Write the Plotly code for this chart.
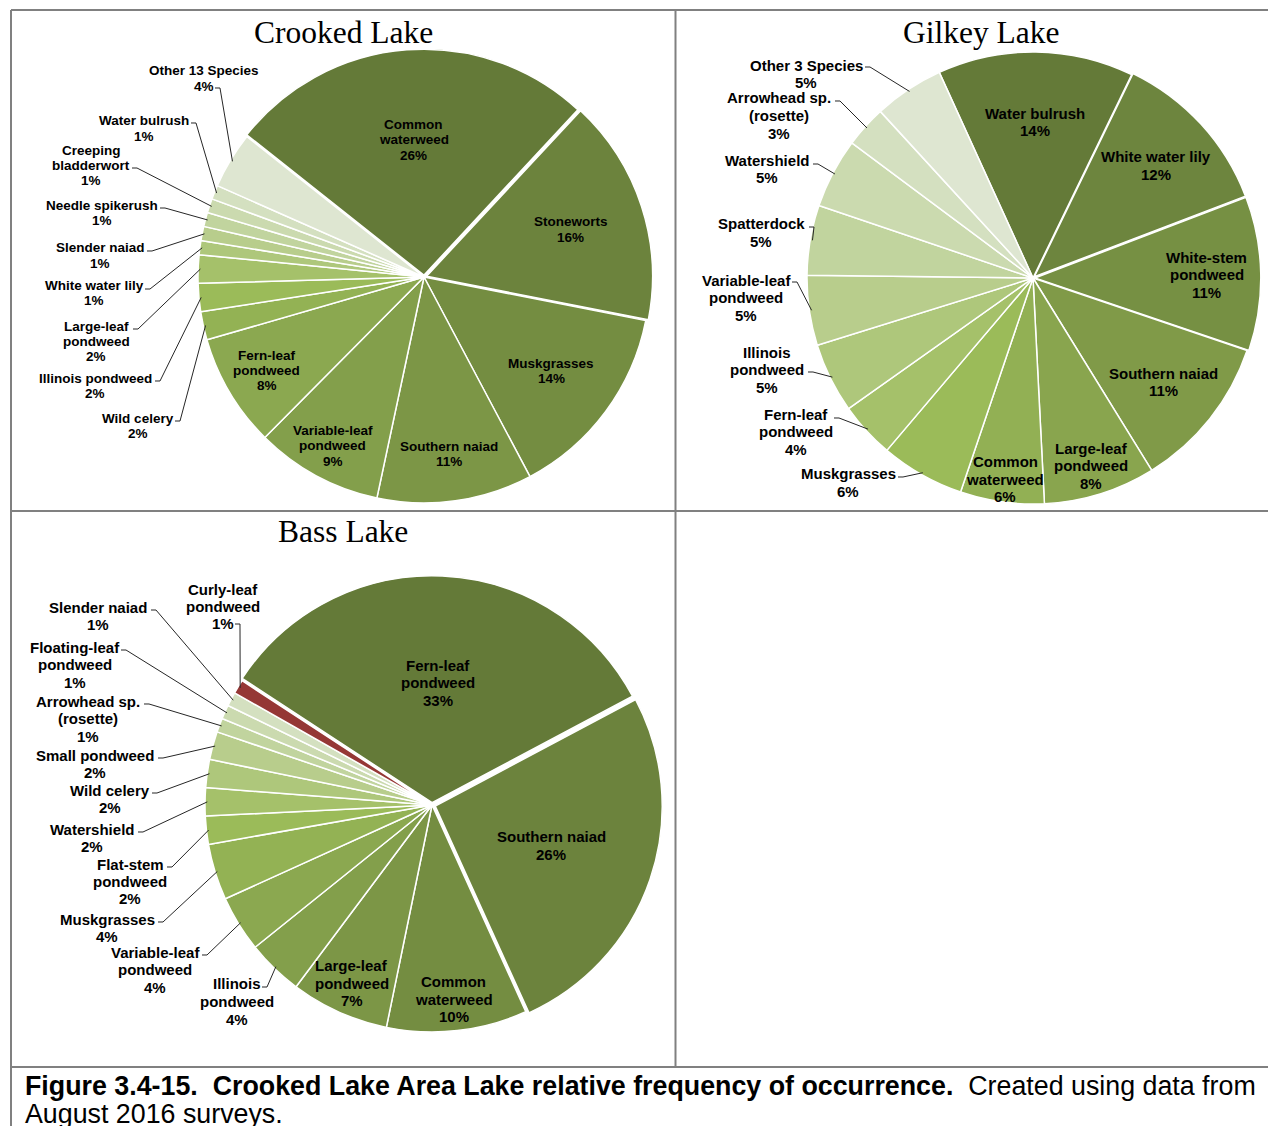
import math
import plotly.graph_objects as go

# ---- data (clockwise order, as in the reference) ----
crooked_species = ["Common\nwaterweed", "Stoneworts", "Muskgrasses", "Southern naiad",
                   "Variable-leaf\npondweed", "Fern-leaf\npondweed", "Wild celery",
                   "Illinois pondweed", "Large-leaf\npondweed", "White water lily",
                   "Slender naiad", "Needle spikerush", "Creeping\nbladderwort",
                   "Water bulrush", "Other 13 Species"]
crooked_pct = [26, 16, 14, 11, 9, 8, 2, 2, 2, 1, 1, 1, 1, 1, 4]

gilkey_species = ["Water bulrush", "White water lily", "White-stem\npondweed", "Southern naiad",
                  "Large-leaf\npondweed", "Common\nwaterweed", "Muskgrasses",
                  "Fern-leaf\npondweed", "Illinois\npondweed", "Variable-leaf\npondweed",
                  "Spatterdock", "Watershield", "Arrowhead sp.\n(rosette)", "Other 3 Species"]
gilkey_pct = [14, 12, 11, 11, 8, 6, 6, 4, 5, 5, 5, 5, 3, 5]

bass_species = ["Fern-leaf\npondweed", "Southern naiad", "Common\nwaterweed",
                "Large-leaf\npondweed", "Illinois\npondweed", "Variable-leaf\npondweed",
                "Muskgrasses", "Flat-stem\npondweed", "Watershield", "Wild celery",
                "Small pondweed", "Arrowhead sp.\n(rosette)", "Floating-leaf\npondweed",
                "Slender naiad", "Curly-leaf\npondweed"]
bass_pct = [33, 26, 10, 7, 4, 4, 4, 2, 2, 2, 2, 1, 1, 1, 1]

# ---- layout / styling ----
OFF = 8  # page body margin
W, H = 1276 - OFF, 1126 - OFF
SANS = "Arial, Liberation Sans, sans-serif"
SERIF = "Times New Roman, Liberation Serif, serif"
DARK, BASE, LIGHT = (100, 122, 56), (155, 187, 89), (222, 230, 209)
GRID = "#808080"


def px(x):
    return (x - OFF) / W


def py(y):
    return 1 - (y - OFF) / H


def mono_colors(n):
    mid = (n - 1) // 2
    out = []
    for i in range(n):
        if i <= mid:
            a, b, t = DARK, BASE, i / mid
        else:
            a, b, t = BASE, LIGHT, (i - mid) / (n - 1 - mid)
        c = [round(a[k] + (b[k] - a[k]) * t) for k in range(3)]
        out.append("#%02x%02x%02x" % tuple(c))
    return out


# per pie: centre, radius, first-slice angle, pulls, inside label radius, outside label spots
lakes = [
    dict(title="Crooked Lake", tpos=(343, 32), names=crooked_species, vals=crooked_pct,
         c=(424, 277), r=226, rot=-51.6, font=13.5, gap=15.3,
         pull={0: 0.008, 1: 0.012},
         inside={0: 0.6, 1: 0.67, 2: 0.7, 3: 0.79, 4: 0.85, 5: 0.81},
         outside={6: (138, 418, 175, 421), 7: (95, 378, 155, 381), 8: (96, 326, 133, 329),
                  9: (94, 285, 145, 289), 10: (100, 248, 147, 251), 11: (102, 205, 160, 208),
                  12: (91, 150, 132, 168), 13: (144, 121, 191, 123), 14: (204, 71, 215, 88)}),
    dict(title="Gilkey Lake", tpos=(981, 32), names=gilkey_species, vals=gilkey_pct,
         c=(1033, 278), r=226, rot=-24.5, font=15, gap=17.5,
         pull={1: 0.008, 2: 0.008},
         inside={0: 0.69, 1: 0.73, 2: 0.76, 3: 0.74, 4: 0.87, 5: 0.9},
         outside={6: (848, 474, 898, 477), 7: (796, 414, 834, 418), 8: (767, 352, 808, 372),
                  9: (746, 280, 792, 282), 10: (761, 224, 809, 227), 11: (767, 160, 813, 164),
                  12: (779, 98, 835, 101), 13: (806, 65, 865, 67)}),
    dict(title="Bass Lake", tpos=(343, 531), names=bass_species, vals=bass_pct,
         c=(432, 805), r=227, rot=-56.8, font=15, gap=17.5,
         pull={0: 0.01, 1: 0.015},
         inside={0: 0.53, 1: 0.54, 2: 0.86, 3: 0.86},
         outside={4: (237, 984, 262, 987), 5: (155, 952, 202, 955), 6: (107, 919, 158, 922),
                  7: (130, 864, 167, 867), 8: (92, 829, 138, 832), 9: (110, 790, 152, 793),
                  10: (95, 755, 158, 758), 11: (88, 701, 144, 704), 12: (75, 647, 121, 650),
                  13: (98, 607, 151, 610), 14: (223, 589, 235, 624)},
         special={14: "#953735"}),
]

fig = go.Figure()


def text_block(x, y_first, lines, size, gap):
    for k, line in enumerate(lines):
        fig.add_annotation(x=px(x), y=py(y_first + k * gap), xref="paper", yref="paper",
                           text="<b>%s</b>" % line, showarrow=False,
                           font=dict(family=SANS, size=size, color="#000000"),
                           xanchor="center", yanchor="middle")


for lk in lakes:
    n = len(lk["vals"])
    cx, cy = lk["c"]
    r = lk["r"]
    pulls = [lk["pull"].get(i, 0) for i in range(n)]
    R = r * (1 + max(pulls))
    cols = mono_colors(n)
    for i, col in lk.get("special", {}).items():
        cols[i] = col
    fig.add_trace(go.Pie(
        labels=[s.replace("\n", " ") for s in lk["names"]], values=lk["vals"],
        sort=False, direction="clockwise", rotation=lk["rot"], pull=pulls,
        marker=dict(colors=cols, line=dict(color="white", width=1.5)),
        textinfo="none", hoverinfo="label+percent", showlegend=False,
        domain=dict(x=[px(cx - R), px(cx + R)], y=[py(cy + R), py(cy - R)]),
    ))

    # title
    fig.add_annotation(x=px(lk["tpos"][0]), y=py(lk["tpos"][1]), xref="paper", yref="paper",
                       text=lk["title"], showarrow=False, xanchor="center", yanchor="middle",
                       font=dict(family=SERIF, size=31.5, color="#000000"))

    total = sum(lk["vals"])
    acc = 0
    for i, v in enumerate(lk["vals"]):
        ang = math.radians(lk["rot"] + (acc + v / 2) / total * 360)
        acc += v
        dx, dy = math.sin(ang), -math.cos(ang)
        lines = lk["names"][i].split("\n") + ["%d%%" % v]
        if i in lk["inside"]:
            rr = (lk["inside"][i] + pulls[i]) * r
            tx, ty = cx + rr * dx, cy + rr * dy
            text_block(tx, ty - (len(lines) - 1) * lk["gap"] / 2, lines, lk["font"], lk["gap"])
        else:
            tx, y1, lx, ly = lk["outside"][i]
            text_block(tx, y1, lines, lk["font"], lk["gap"])
            ex, ey = cx + r * 0.99 * dx, cy + r * 0.99 * dy
            fig.add_shape(type="path", xref="paper", yref="paper",
                          path="M %f,%f L %f,%f L %f,%f" % (px(lx), py(ly), px(lx + 5), py(ly),
                                                           px(ex), py(ey)),
                          line=dict(color="#262626", width=1))

# table grid
for x0, y0, x1, y1 in [(11, 10, 1276, 10), (11, 10, 11, 1126), (675.5, 10, 675.5, 1067),
                       (11, 511, 1276, 511), (11, 1067, 1276, 1067)]:
    fig.add_shape(type="line", xref="paper", yref="paper", x0=px(x0), y0=py(y0),
                  x1=px(x1), y1=py(y1), line=dict(color=GRID, width=2))

# caption
fig.add_annotation(x=px(23), y=py(1086), xref="paper", yref="paper", showarrow=False,
                   xanchor="left", yanchor="middle",
                   text="<b>Figure 3.4-15.&nbsp; Crooked Lake Area Lake relative frequency of occurrence.</b>"
                        "&nbsp; Created using data from",
                   font=dict(family=SANS, size=26.8, color="#000000"))
fig.add_annotation(x=px(23), y=py(1114), xref="paper", yref="paper", showarrow=False,
                   xanchor="left", yanchor="middle", text="August 2016 surveys.",
                   font=dict(family=SANS, size=26.8, color="#000000"))

fig.update_layout(width=W, height=H, margin=dict(l=0, r=0, t=0, b=0),
                  paper_bgcolor="white", plot_bgcolor="white")
fig.write_html("out.html")
